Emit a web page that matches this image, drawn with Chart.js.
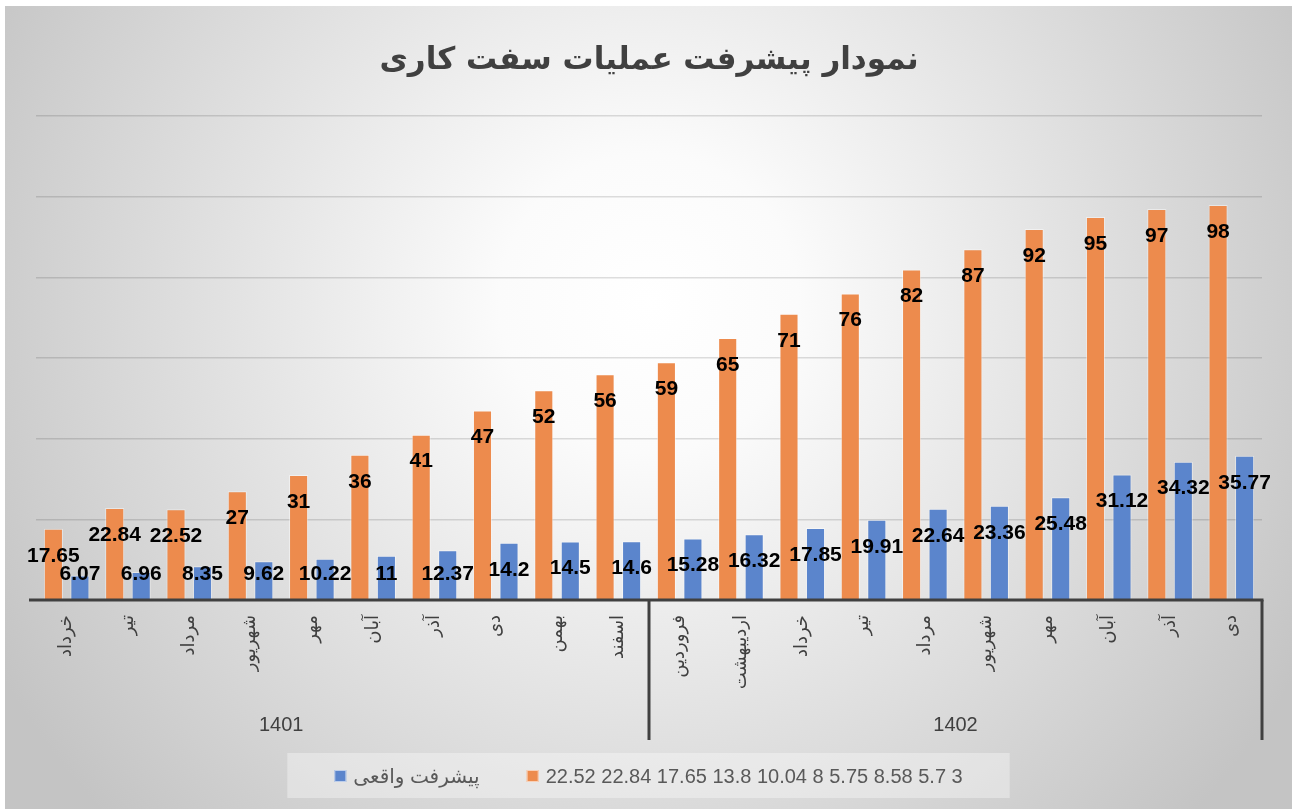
<!DOCTYPE html>
<html>
<head>
<meta charset="utf-8">
<script src="https://cdn.jsdelivr.net/npm/chart.js@4.4.0/dist/chart.umd.min.js"></script>
<style>
  body { margin: 0; background: #fff; }
  #wrap { position: absolute; left: 5px; top: 6px; width: 1287px; height: 803px; }
</style>
</head>
<body>
<div id="wrap"><canvas id="progressChart"></canvas></div>
<script>
const months = ['خرداد', 'تیر', 'مرداد', 'شهریور', 'مهر', 'آبان', 'آذر', 'دی', 'بهمن', 'اسفند',
  'فروردین', 'اردیبهشت', 'خرداد', 'تیر', 'مرداد', 'شهریور', 'مهر', 'آبان', 'آذر', 'دی'];
const planned = [17.65, 22.84, 22.52, 27, 31, 36, 41, 47, 52, 56, 59, 65, 71, 76, 82, 87, 92, 95, 97, 98];
const actual = [6.07, 6.96, 8.35, 9.62, 10.22, 11, 12.37, 14.2, 14.5, 14.6, 15.28, 16.32, 17.85, 19.91, 22.64, 23.36, 25.48, 31.12, 34.32, 35.77];
const plannedLabel = '22.52 22.84 17.65 13.8 10.04 8 5.75 8.58 5.7 3';
const actualLabel = 'پیشرفت واقعی';
const years = ['1401', '1402'];
// first / last month index of each year group (1401 starts two months before the first shown one)
const yearFirst = [-2, 10];
const yearLast = [9, 19];
const yMin = 0, yMax = 120, yStep = 20;

const orange = '#ED8B4D';
const blue = '#5B85CC';

// background gradient, drawn before everything
const chartBg = {
  id: 'chartBg',
  beforeDraw(chart) {
    const {ctx, width, height} = chart;
    const cx = width * 0.5, cy = height * 0.37;
    const g = ctx.createRadialGradient(cx, cy, 0, cx, cy, width * 0.58);
    g.addColorStop(0, '#ffffff');
    g.addColorStop(0.2, '#fbfbfb');
    g.addColorStop(1, '#c4c4c4');
    ctx.save();
    ctx.fillStyle = g;
    ctx.fillRect(0, 0, width, height);
    ctx.restore();
  }
};

// value labels on the bars
const barLabels = {
  id: 'barLabels',
  afterDatasetsDraw(chart) {
    const ctx = chart.ctx;
    const base = chart.scales.y.getPixelForValue(0);
    ctx.save();
    ctx.font = 'bold 21px "Liberation Sans", Arial, sans-serif';
    ctx.fillStyle = '#000';
    ctx.textAlign = 'center';
    ctx.textBaseline = 'middle';
    chart.data.datasets.forEach((ds, i) => {
      chart.getDatasetMeta(i).data.forEach((bar, j) => {
        const y = Math.min(bar.y + 27, base - 26);
        ctx.fillText(ds.data[j], bar.x, y);
      });
    });
    ctx.restore();
  }
};

// axis line, year separators, year labels and legend
const yearAxis = {
  id: 'yearAxis',
  afterDraw(chart) {
    const ctx = chart.ctx;
    const x = chart.scales.x;
    const base = chart.scales.y.getPixelForValue(0);
    const area = chart.chartArea;
    ctx.save();
    ctx.strokeStyle = '#404040';
    ctx.lineWidth = 3;
    ctx.beginPath();
    ctx.moveTo(area.left - 7, base);
    ctx.lineTo(area.right + 1.5, base);
    ctx.stroke();

    ctx.font = '20px "Liberation Sans", Arial, sans-serif';
    ctx.fillStyle = '#404040';
    ctx.textAlign = 'center';
    ctx.textBaseline = 'middle';
    years.forEach((yr, i) => {
      const sx = x.getPixelForValue(yearLast[i] + 0.5);
      ctx.beginPath();
      ctx.moveTo(sx, base);
      ctx.lineTo(sx, base + 140);
      ctx.stroke();
      const mid = (x.getPixelForValue(yearFirst[i] - 0.5) + sx) / 2;
      ctx.fillText(yr, mid, base + 125);
    });

    // legend
    const items = [
      {text: actualLabel, color: blue},
      {text: plannedLabel, color: orange}
    ];
    const box = 12, gapText = 7, gapItem = 47, pad = 47;
    ctx.font = '20px "Liberation Sans", "DejaVu Sans", sans-serif';
    let total = 0;
    items.forEach((it, i) => {
      it.w = ctx.measureText(it.text).width;
      total += box + gapText + it.w + (i ? gapItem : 0);
    });
    const cy = chart.height - 33;
    let lx = chart.width / 2 - total / 2;
    ctx.fillStyle = 'rgba(255,255,255,0.35)';
    ctx.fillRect(lx - pad, cy - 23, total + pad * 2, 45);
    ctx.textAlign = 'left';
    items.forEach(it => {
      ctx.fillStyle = it.color;
      ctx.fillRect(lx, cy - box / 2, box, box);
      ctx.strokeStyle = 'rgba(255,255,255,0.6)';
      ctx.lineWidth = 1;
      ctx.strokeRect(lx + 0.5, cy - box / 2 + 0.5, box - 1, box - 1);
      ctx.fillStyle = '#595959';
      ctx.fillText(it.text, lx + box + gapText, cy + 1);
      lx += box + gapText + it.w + gapItem;
    });
    ctx.restore();
  }
};

new Chart(document.getElementById('progressChart'), {
  type: 'bar',
  data: {
    labels: months,
    datasets: [
      {
        label: plannedLabel,
        data: planned,
        backgroundColor: orange,
        borderColor: 'rgba(255,255,255,0.45)',
        borderWidth: 1,
        categoryPercentage: 0.865,
        barPercentage: 0.72
      },
      {
        label: actualLabel,
        data: actual,
        backgroundColor: blue,
        borderColor: 'rgba(255,255,255,0.45)',
        borderWidth: 1,
        categoryPercentage: 0.865,
        barPercentage: 0.72
      }
    ]
  },
  options: {
    responsive: true,
    maintainAspectRatio: false,
    animation: false,
    layout: { padding: { left: 31, right: 30, top: 0, bottom: 69 } },
    plugins: {
      legend: { display: false },
      tooltip: { enabled: false },
      title: {
        display: true,
        text: 'نمودار پیشرفت عملیات سفت کاری',
        color: '#404040',
        font: { family: '"DejaVu Sans", sans-serif', size: 31, weight: 'bold' },
        padding: { top: 36, bottom: 37 }
      }
    },
    scales: {
      x: {
        grid: { display: false, drawTicks: false },
        border: { display: false },
        ticks: {
          autoSkip: false,
          minRotation: 90,
          maxRotation: 90,
          padding: 15,
          color: '#404040',
          font: { family: '"DejaVu Sans", sans-serif', size: 18 }
        },
        afterFit(scale) { scale.height = 140; }
      },
      y: {
        min: yMin,
        max: yMax,
        ticks: { display: false, stepSize: yStep },
        grid: { color: 'rgba(0,0,0,0.13)', lineWidth: 1.5, drawTicks: false },
        border: { display: false }
      }
    }
  },
  plugins: [chartBg, barLabels, yearAxis]
});
</script>
</body>
</html>
